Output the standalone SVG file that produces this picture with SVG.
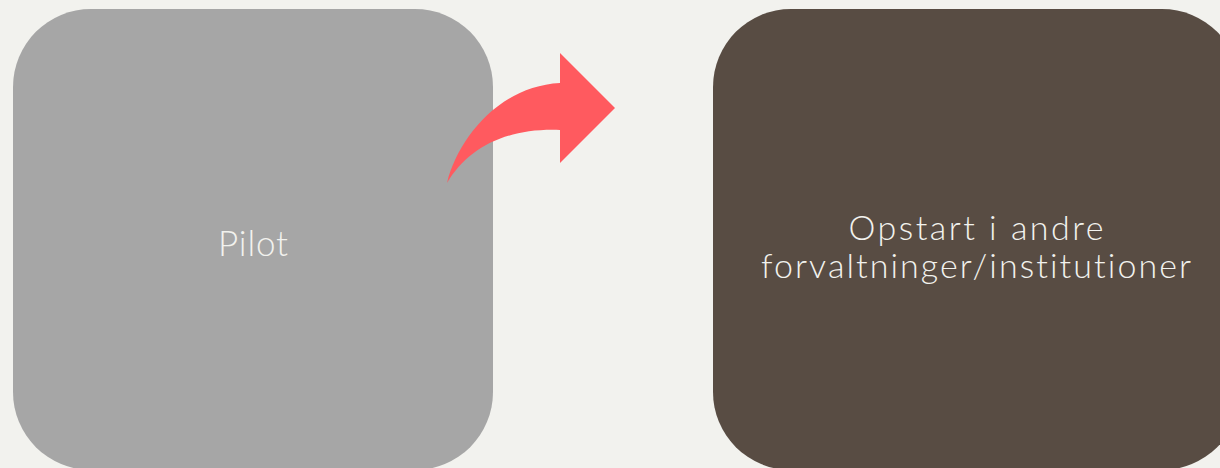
<svg xmlns="http://www.w3.org/2000/svg" width="1220" height="468" viewBox="0 0 1220 468">
  <style>
    .lbl { font-family: "Lato", "Liberation Sans", sans-serif; font-weight: 300; fill: #f2f2ee; text-anchor: middle; font-variant-ligatures: none; }
  </style>
  <rect x="0" y="0" width="1220" height="468" fill="#f2f2ee"/>
  <g id="node-pilot">
    <rect x="13" y="9" width="480" height="461" rx="78" ry="78" fill="#a6a6a6"/>
    <text class="lbl" x="253" y="256" font-size="35" textLength="70" lengthAdjust="spacing">Pilot</text>
  </g>
  <g id="node-opstart">
    <rect x="713" y="9" width="527" height="461" rx="78" ry="78" fill="#584c43"/>
    <text class="lbl" x="976" y="240" font-size="34" textLength="255" lengthAdjust="spacing">Opstart i andre</text>
    <text class="lbl" x="976" y="278" font-size="34" textLength="430" lengthAdjust="spacing">forvaltninger/institutioner</text>
  </g>
  <g id="connectors">
    <path d="M447,183 C458,138 500,86 560,83 L560,53 L615,108 L560,163 L560,130 C505,128 468,148 447,183 Z" fill="#ff5a5f"/>
  </g>
</svg>
